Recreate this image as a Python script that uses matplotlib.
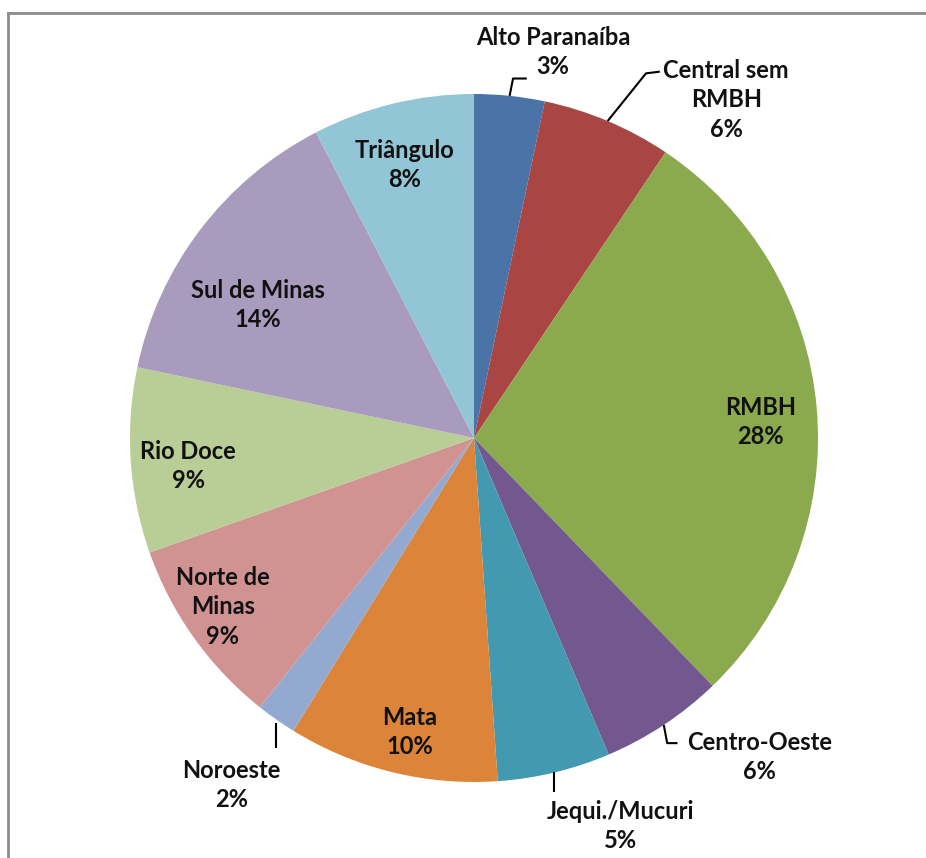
import matplotlib.pyplot as plt
import numpy as np
from matplotlib.lines import Line2D

# Regions (clockwise from 12 o'clock) and their shares
regions = ['Alto Paranaíba', 'Central sem\nRMBH', 'RMBH', 'Centro-Oeste',
           'Jequi./Mucuri', 'Mata', 'Noroeste', 'Norte de\nMinas',
           'Rio Doce', 'Sul de Minas', 'Triângulo']
shares = [3.3, 6.1, 28.4, 5.8, 5.3, 9.9, 1.9, 8.9, 8.7, 14.1, 7.6]

colors = ['#4A73A8', '#A94542', '#8AAA4D', '#73578F', '#4399AF', '#DB843A',
          '#93A9D0', '#D19392', '#B9CD96', '#A99BBD', '#92C5D6']

# label placement (x, y in pie-radius units) and whether a leader line is used
label_pos = [(0.23, 1.122), (0.733, 0.983), (0.834, 0.047), (0.831, -0.927),
             (0.427, -1.128), (-0.186, -0.855), (-0.706, -1.009),
             (-0.730, -0.491), (-0.831, -0.081), (-0.628, 0.387),
             (-0.203, 0.794)]
outside = [True, True, False, True, True, False, True, False, False, False, False]

plt.rcParams['font.family'] = ['Lato', 'DejaVu Sans']

fig = plt.figure(figsize=(9.26, 8.58), dpi=100)
ax = fig.add_axes([0, 0, 1, 1])

wedges, _ = ax.pie(shares, colors=colors, startangle=90, counterclock=False,
                   radius=1.0, wedgeprops=dict(linewidth=0))

total = sum(shares)
for w, name, s, (tx, ty), out in zip(wedges, regions, shares, label_pos, outside):
    pct = f'{100 * s / total:.0f}%'
    ax.text(tx, ty, f'{name}\n{pct}', ha='center', va='center',
            fontsize=17, fontweight='bold', color='#111111', linespacing=1.35)
    if out:
        ang = np.deg2rad((w.theta1 + w.theta2) / 2)
        x0, y0 = np.cos(ang), np.sin(ang)
        # leader from wedge edge towards the label
        lines = {
            'Alto Paranaíba': [(x0, y0), (x0 + 0.01, 1.045), (x0 + 0.05, 1.045)],
            'Central sem\nRMBH': [(x0, y0), (0.50, 1.06), (0.54, 1.065)],
            'Centro-Oeste': [(x0, y0), (x0 + 0.01, -0.887), (x0 + 0.04, -0.887)],
            'Jequi./Mucuri': [(x0, y0), (x0, -1.03)],
            'Noroeste': [(x0, y0 - 0.01), (x0, -0.9)],
        }[name]
        xs, ys = zip(*lines)
        ax.plot(xs, ys, color='black', lw=1.5, solid_capstyle='butt')

ax.set_xlim(-474 / 344, (926 - 474) / 344)
ax.set_ylim(-(858 - 438) / 344, 438 / 344)
ax.set_aspect('auto')
ax.axis('off')

# chart-area border (top and left visible)
fig.add_artist(Line2D([8 / 926, 1], [1 - 13 / 858, 1 - 13 / 858], color='#8c8c8c', lw=2))
fig.add_artist(Line2D([8 / 926, 8 / 926], [0, 1 - 13 / 858], color='#8c8c8c', lw=2))

fig.savefig('out.png', dpi=100)
